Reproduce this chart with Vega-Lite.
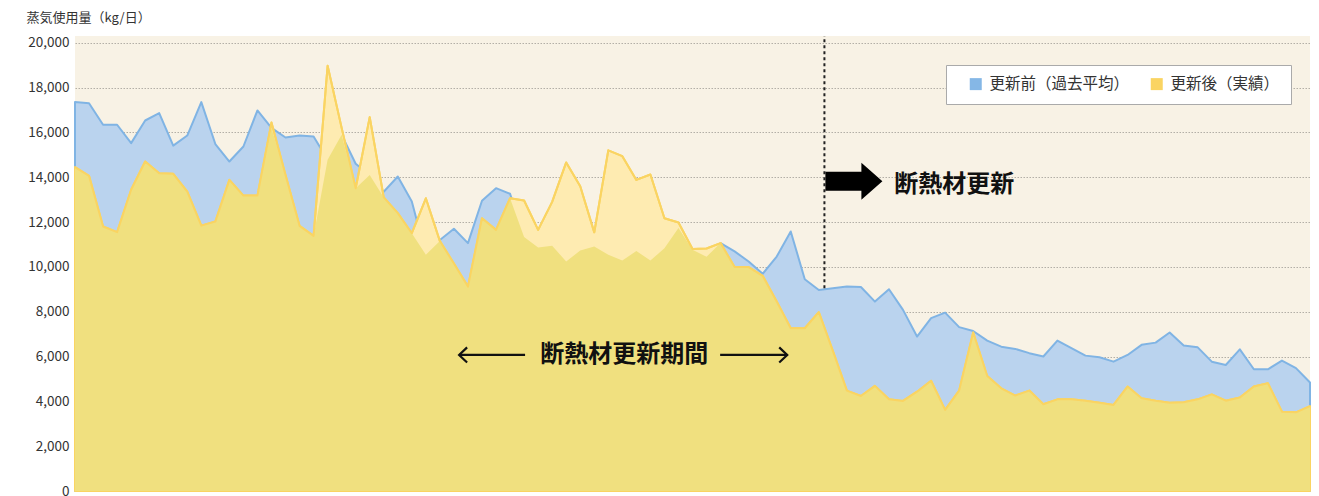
{
  "$schema": "https://vega.github.io/schema/vega-lite/v6.json",
  "width": 1235,
  "height": 455,
  "autosize": {"type": "none"},
  "padding": {"left": 75, "top": 36, "right": 9, "bottom": 5},
  "background": "white",
  "config": {
    "view": {"fill": "#F8F2E5", "stroke": null},
    "font": "Noto Sans CJK JP",
    "axis": {"zindex": 1}
  },
  "datasets": {
    "steam": [
      {"d":0,"s":"更新前（過去平均）","v":17350},{"d":1,"s":"更新前（過去平均）","v":17300},{"d":2,"s":"更新前（過去平均）","v":16340},{"d":3,"s":"更新前（過去平均）","v":16340},{"d":4,"s":"更新前（過去平均）","v":15520},{"d":5,"s":"更新前（過去平均）","v":16530},{"d":6,"s":"更新前（過去平均）","v":16860},{"d":7,"s":"更新前（過去平均）","v":15410},{"d":8,"s":"更新前（過去平均）","v":15860},{"d":9,"s":"更新前（過去平均）","v":17350},
      {"d":10,"s":"更新前（過去平均）","v":15480},{"d":11,"s":"更新前（過去平均）","v":14700},{"d":12,"s":"更新前（過去平均）","v":15370},{"d":13,"s":"更新前（過去平均）","v":16980},{"d":14,"s":"更新前（過去平均）","v":16200},{"d":15,"s":"更新前（過去平均）","v":15770},{"d":16,"s":"更新前（過去平均）","v":15860},{"d":17,"s":"更新前（過去平均）","v":15820},{"d":18,"s":"更新前（過去平均）","v":14780},{"d":19,"s":"更新前（過去平均）","v":15890},
      {"d":20,"s":"更新前（過去平均）","v":14600},{"d":21,"s":"更新前（過去平均）","v":14100},{"d":22,"s":"更新前（過去平均）","v":13350},{"d":23,"s":"更新前（過去平均）","v":14030},{"d":24,"s":"更新前（過去平均）","v":12920},{"d":25,"s":"更新前（過去平均）","v":10540},{"d":26,"s":"更新前（過去平均）","v":11200},{"d":27,"s":"更新前（過去平均）","v":11700},{"d":28,"s":"更新前（過去平均）","v":11060},{"d":29,"s":"更新前（過去平均）","v":12950},
      {"d":30,"s":"更新前（過去平均）","v":13510},{"d":31,"s":"更新前（過去平均）","v":13260},{"d":32,"s":"更新前（過去平均）","v":11330},{"d":33,"s":"更新前（過去平均）","v":10860},{"d":34,"s":"更新前（過去平均）","v":10940},{"d":35,"s":"更新前（過去平均）","v":10240},{"d":36,"s":"更新前（過去平均）","v":10730},{"d":37,"s":"更新前（過去平均）","v":10910},{"d":38,"s":"更新前（過去平均）","v":10540},{"d":39,"s":"更新前（過去平均）","v":10280},
      {"d":40,"s":"更新前（過去平均）","v":10710},{"d":41,"s":"更新前（過去平均）","v":10280},{"d":42,"s":"更新前（過去平均）","v":10830},{"d":43,"s":"更新前（過去平均）","v":11730},{"d":44,"s":"更新前（過去平均）","v":10760},{"d":45,"s":"更新前（過去平均）","v":10450},{"d":46,"s":"更新前（過去平均）","v":11060},{"d":47,"s":"更新前（過去平均）","v":10690},{"d":48,"s":"更新前（過去平均）","v":10240},{"d":49,"s":"更新前（過去平均）","v":9690},
      {"d":50,"s":"更新前（過去平均）","v":10460},{"d":51,"s":"更新前（過去平均）","v":11580},{"d":52,"s":"更新前（過去平均）","v":9450},{"d":53,"s":"更新前（過去平均）","v":8970},{"d":54,"s":"更新前（過去平均）","v":9050},{"d":55,"s":"更新前（過去平均）","v":9120},{"d":56,"s":"更新前（過去平均）","v":9100},{"d":57,"s":"更新前（過去平均）","v":8450},{"d":58,"s":"更新前（過去平均）","v":9000},{"d":59,"s":"更新前（過去平均）","v":8080},
      {"d":60,"s":"更新前（過去平均）","v":6890},{"d":61,"s":"更新前（過去平均）","v":7710},{"d":62,"s":"更新前（過去平均）","v":7960},{"d":63,"s":"更新前（過去平均）","v":7310},{"d":64,"s":"更新前（過去平均）","v":7140},{"d":65,"s":"更新前（過去平均）","v":6710},{"d":66,"s":"更新前（過去平均）","v":6440},{"d":67,"s":"更新前（過去平均）","v":6340},{"d":68,"s":"更新前（過去平均）","v":6150},{"d":69,"s":"更新前（過去平均）","v":6000},
      {"d":70,"s":"更新前（過去平均）","v":6710},{"d":71,"s":"更新前（過去平均）","v":6370},{"d":72,"s":"更新前（過去平均）","v":6040},{"d":73,"s":"更新前（過去平均）","v":5970},{"d":74,"s":"更新前（過去平均）","v":5770},{"d":75,"s":"更新前（過去平均）","v":6070},{"d":76,"s":"更新前（過去平均）","v":6520},{"d":77,"s":"更新前（過去平均）","v":6620},{"d":78,"s":"更新前（過去平均）","v":7070},{"d":79,"s":"更新前（過去平均）","v":6490},
      {"d":80,"s":"更新前（過去平均）","v":6410},{"d":81,"s":"更新前（過去平均）","v":5770},{"d":82,"s":"更新前（過去平均）","v":5620},{"d":83,"s":"更新前（過去平均）","v":6320},{"d":84,"s":"更新前（過去平均）","v":5430},{"d":85,"s":"更新前（過去平均）","v":5430},{"d":86,"s":"更新前（過去平均）","v":5820},{"d":87,"s":"更新前（過去平均）","v":5480},{"d":88,"s":"更新前（過去平均）","v":4840},
      {"d":0,"s":"更新後（実績）","v":14450},{"d":1,"s":"更新後（実績）","v":14060},{"d":2,"s":"更新後（実績）","v":11800},{"d":3,"s":"更新後（実績）","v":11550},{"d":4,"s":"更新後（実績）","v":13440},{"d":5,"s":"更新後（実績）","v":14700},{"d":6,"s":"更新後（実績）","v":14180},{"d":7,"s":"更新後（実績）","v":14150},{"d":8,"s":"更新後（実績）","v":13360},{"d":9,"s":"更新後（実績）","v":11840},
      {"d":10,"s":"更新後（実績）","v":12020},{"d":11,"s":"更新後（実績）","v":13880},{"d":12,"s":"更新後（実績）","v":13180},{"d":13,"s":"更新後（実績）","v":13180},{"d":14,"s":"更新後（実績）","v":16440},{"d":15,"s":"更新後（実績）","v":14100},{"d":16,"s":"更新後（実績）","v":11830},{"d":17,"s":"更新後（実績）","v":11380},{"d":18,"s":"更新後（実績）","v":18970},{"d":19,"s":"更新後（実績）","v":16200},
      {"d":20,"s":"更新後（実績）","v":13510},{"d":21,"s":"更新後（実績）","v":16680},{"d":22,"s":"更新後（実績）","v":13100},{"d":23,"s":"更新後（実績）","v":12400},{"d":24,"s":"更新後（実績）","v":11500},{"d":25,"s":"更新後（実績）","v":13060},{"d":26,"s":"更新後（実績）","v":11150},{"d":27,"s":"更新後（実績）","v":10150},{"d":28,"s":"更新後（実績）","v":9120},{"d":29,"s":"更新後（実績）","v":12170},
      {"d":30,"s":"更新後（実績）","v":11650},{"d":31,"s":"更新後（実績）","v":13060},{"d":32,"s":"更新後（実績）","v":12960},{"d":33,"s":"更新後（実績）","v":11650},{"d":34,"s":"更新後（実績）","v":12900},{"d":35,"s":"更新後（実績）","v":14660},{"d":36,"s":"更新後（実績）","v":13600},{"d":37,"s":"更新後（実績）","v":11540},{"d":38,"s":"更新後（実績）","v":15200},{"d":39,"s":"更新後（実績）","v":14940},
      {"d":40,"s":"更新後（実績）","v":13880},{"d":41,"s":"更新後（実績）","v":14120},{"d":42,"s":"更新後（実績）","v":12170},{"d":43,"s":"更新後（実績）","v":11980},{"d":44,"s":"更新後（実績）","v":10800},{"d":45,"s":"更新後（実績）","v":10820},{"d":46,"s":"更新後（実績）","v":11060},{"d":47,"s":"更新後（実績）","v":9990},{"d":48,"s":"更新後（実績）","v":9990},{"d":49,"s":"更新後（実績）","v":9600},
      {"d":50,"s":"更新後（実績）","v":8450},{"d":51,"s":"更新後（実績）","v":7260},{"d":52,"s":"更新後（実績）","v":7260},{"d":53,"s":"更新後（実績）","v":7980},{"d":54,"s":"更新後（実績）","v":6250},{"d":55,"s":"更新後（実績）","v":4480},{"d":56,"s":"更新後（実績）","v":4240},{"d":57,"s":"更新後（実績）","v":4690},{"d":58,"s":"更新後（実績）","v":4090},{"d":59,"s":"更新後（実績）","v":4020},
      {"d":60,"s":"更新後（実績）","v":4430},{"d":61,"s":"更新後（実績）","v":4920},{"d":62,"s":"更新後（実績）","v":3620},{"d":63,"s":"更新後（実績）","v":4480},{"d":64,"s":"更新後（実績）","v":7070},{"d":65,"s":"更新後（実績）","v":5130},{"d":66,"s":"更新後（実績）","v":4580},{"d":67,"s":"更新後（実績）","v":4260},{"d":68,"s":"更新後（実績）","v":4480},{"d":69,"s":"更新後（実績）","v":3870},
      {"d":70,"s":"更新後（実績）","v":4090},{"d":71,"s":"更新後（実績）","v":4090},{"d":72,"s":"更新後（実績）","v":4030},{"d":73,"s":"更新後（実績）","v":3940},{"d":74,"s":"更新後（実績）","v":3840},{"d":75,"s":"更新後（実績）","v":4660},{"d":76,"s":"更新後（実績）","v":4140},{"d":77,"s":"更新後（実績）","v":4030},{"d":78,"s":"更新後（実績）","v":3940},{"d":79,"s":"更新後（実績）","v":3960},
      {"d":80,"s":"更新後（実績）","v":4090},{"d":81,"s":"更新後（実績）","v":4310},{"d":82,"s":"更新後（実績）","v":4030},{"d":83,"s":"更新後（実績）","v":4170},{"d":84,"s":"更新後（実績）","v":4660},{"d":85,"s":"更新後（実績）","v":4810},{"d":86,"s":"更新後（実績）","v":3540},{"d":87,"s":"更新後（実績）","v":3510},{"d":88,"s":"更新後（実績）","v":3790}
    ],
    "notes": [
      {"d": 39.13, "v": 6070, "t": "断熱材更新期間"},
      {"d": 62.65, "v": 13660, "t": "断熱材更新"}
    ],
    "spans": [
      {"d": 27.37, "d2": 32.07, "v": 6070},
      {"d": 45.97, "d2": 50.75, "v": 6070}
    ],
    "heads": [
      {"d": 27.37, "v": 6070, "k": "L"},
      {"d": 50.75, "v": 6070, "k": "R"}
    ],
    "divider": [{"d": 53.4, "v": 9050, "v2": 20300}],
    "bigarrow": [{"d": 55.5, "v": 13816}]
  },
  "data": {"name": "steam"},
  "encoding": {
    "x": {"field": "d", "type": "quantitative", "scale": {"domain": [0, 88], "nice": false, "zero": false}, "axis": null},
    "y": {
      "field": "v", "type": "quantitative",
      "scale": {"domain": [0, 20300], "nice": false},
      "axis": {
        "title": "蒸気使用量（kg/日）",
        "titleAngle": 0, "titleAlign": "left", "titleBaseline": "middle",
        "titleX": -49, "titleY": -19,
        "titleFontSize": 13, "titleFontWeight": "normal", "titleColor": "#333", "titleFont": "Noto Sans CJK JP",
        "values": [0, 2000, 4000, 6000, 8000, 10000, 12000, 14000, 16000, 18000, 20000],
        "format": ",d",
        "labelFontSize": 13.5, "labelColor": "#333", "labelFont": "Noto Sans CJK JP", "labelPadding": 6,
        "domain": false, "ticks": false,
        "grid": true, "gridColor": "#b3afa6", "gridDash": [1.5, 1.5], "gridWidth": 1
      }
    }
  },
  "layer": [
    {
      "transform": [{"filter": "datum.s === '更新前（過去平均）'"}],
      "mark": {"type": "area", "fill": "#BAD3EE", "stroke": "#80B4E4", "strokeWidth": 2, "strokeJoin": "round"}
    },
    {
      "transform": [{"filter": "datum.s === '更新後（実績）'"}],
      "mark": {"type": "area", "fill": "#FEEBB1", "stroke": "#FAD462", "strokeWidth": 2, "strokeJoin": "round"}
    },
    {
      "transform": [{"aggregate": [{"op": "min", "field": "v", "as": "v"}], "groupby": ["d"]}],
      "mark": {"type": "area", "fill": "#F0E07F"}
    },
    {
      "transform": [{"filter": "datum.s === '更新後（実績）'"}],
      "mark": {"type": "line", "strokeWidth": 2, "strokeJoin": "round"},
      "encoding": {
        "color": {
          "field": "s", "type": "nominal",
          "scale": {"domain": ["更新前（過去平均）", "更新後（実績）"], "range": ["#85B7E6", "#FAD462"]},
          "legend": {
            "orient": "none", "legendX": 871, "legendY": 29,
            "direction": "horizontal", "title": null,
            "fillColor": "white", "strokeColor": "#aaaaaa",
            "padding": 11, "symbolOffset": 11,
            "symbolType": "square", "symbolSize": 144,
            "labelFontSize": 15.5, "labelFont": "Noto Sans CJK JP", "labelColor": "#333",
            "columnPadding": 8, "labelOffset": 6,
            "encode": {"symbols": {"update": {"fill": {"scale": "color", "field": "value"}, "strokeWidth": {"value": 0}, "opacity": {"value": 1}, "fillOpacity": {"value": 1}}}}
          }
        }
      }
    },
    {
      "data": {"name": "divider"},
      "mark": {"type": "rule", "color": "#222", "strokeWidth": 2, "strokeDash": [3, 3]},
      "encoding": {"y2": {"field": "v2"}}
    },
    {
      "data": {"name": "spans"},
      "mark": {"type": "rule", "color": "#111", "strokeWidth": 2.2},
      "encoding": {"x2": {"field": "d2"}}
    },
    {
      "data": {"name": "heads"},
      "mark": {"type": "point", "filled": false, "stroke": "#111", "strokeWidth": 2.2, "size": 256, "opacity": 1},
      "encoding": {
        "shape": {"field": "k", "type": "nominal", "scale": {"domain": ["L", "R"], "range": ["M1,-0.95L0,0L1,0.95", "M-1,-0.95L0,0L-1,0.95"]}, "legend": null}
      }
    },
    {
      "data": {"name": "bigarrow"},
      "mark": {"type": "point", "filled": true, "fill": "#000", "opacity": 1, "strokeWidth": 0, "size": 3249, "shape": "M-1,-0.333L0.263,-0.333L0.263,-0.649L1,0L0.263,0.649L0.263,0.333L-1,0.333Z"}
    },
    {
      "data": {"name": "notes"},
      "mark": {"type": "text", "font": "Noto Sans CJK JP", "fontSize": 24, "fontWeight": "bold", "color": "#111", "align": "center", "baseline": "middle"},
      "encoding": {"text": {"field": "t"}}
    }
  ]
}
